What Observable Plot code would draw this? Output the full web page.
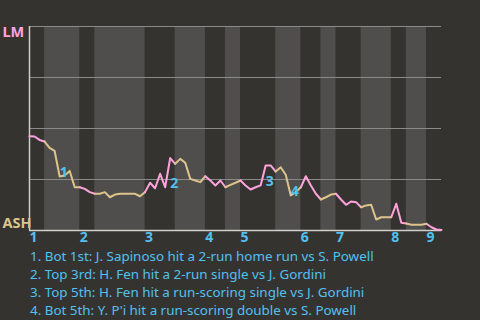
<!DOCTYPE html>
<html>
<head>
<meta charset="utf-8">
<script src="https://cdn.jsdelivr.net/npm/d3@7"></script>
<script src="https://cdn.jsdelivr.net/npm/@observablehq/plot@0.6"></script>
<style>
  html, body { margin: 0; padding: 0; background: #353330; width: 480px; height: 320px; overflow: hidden; }
  #chart svg { display: block; }
  #notes { padding-left: 30px; color: #52c1f0; font-family: "Noto Sans", sans-serif; font-size: 13.4px; line-height: 18px; }
</style>
</head>
<body>
<div id="chart"></div>
<div id="notes"></div>
<script>
// Teams (away on top, home on bottom)
const teams = ["LM", "ASH"];
const teamValue = [1, 0];
// Innings labels
const innings = ["1", "2", "3", "4", "5", "6", "7", "8", "9"];
// Number of plays in each half-inning (T1, B1, T2, B2, ... T9)
const halfPlays = [3, 7, 3, 10, 6, 6, 4, 3, 7, 5, 4, 3, 5, 6, 3, 4, 3];
// LM win probability after each play (index 0 = game start)
const lmWinProb = [
  0.462, 0.461, 0.444, 0.436,
  0.405, 0.390, 0.265, 0.270, 0.292, 0.212, 0.212,
  0.204, 0.188, 0.180,
  0.180, 0.188, 0.163, 0.176, 0.180, 0.180, 0.180, 0.180, 0.168, 0.188,
  0.234, 0.207, 0.278, 0.212, 0.355, 0.327,
  0.351, 0.332, 0.253, 0.245, 0.237, 0.266,
  0.245, 0.221, 0.245, 0.212,
  0.224, 0.234, 0.245,
  0.221, 0.201, 0.212, 0.221, 0.319, 0.319, 0.289,
  0.310, 0.273, 0.172, 0.188, 0.212,
  0.266, 0.221, 0.180, 0.152,
  0.163, 0.176, 0.180,
  0.152, 0.126, 0.142, 0.139, 0.114,
  0.123, 0.126, 0.054, 0.065, 0.065, 0.065,
  0.131, 0.038, 0.034,
  0.028, 0.028, 0.028, 0.033,
  0.016, 0.005, 0.003
];
// Key events: play index and description
const eventPlays = [6, 28, 47, 52];
const eventLabels = ["1", "2", "3", "4"];
const eventNotes = [
  "Bot 1st: J. Sapinoso hit a 2-run home run vs S. Powell",
  "Top 3rd: H. Fen hit a 2-run single vs J. Gordini",
  "Top 5th: H. Fen hit a run-scoring single vs J. Gordini",
  "Bot 5th: Y. P'i hit a run-scoring double vs S. Powell"
];

// styles
const awayColor = "#ffa3dc";
const homeColor = "#dcc48c";
const bandColor = "#4f4e4c";
const gridColor = "#8a8a88";
const axisColor = "#cfcfca";
const labelColor = "#52c1f0";

// build structures
const bounds = [0];
halfPlays.forEach(n => bounds.push(bounds[bounds.length - 1] + n));
const halves = halfPlays.map((n, h) => ({h, x1: bounds[h], x2: bounds[h + 1], top: h % 2 === 0}));
const linePts = [];
halves.forEach(({h, x1, x2}) => {
  for (let i = x1; i <= x2; i++) linePts.push({h, i, v: lmWinProb[i], c: h % 2 === 0 ? awayColor : homeColor});
});
const inningStarts = innings.map((lab, k) => ({lab, x: bounds[2 * k]}));
const events = eventPlays.map((p, k) => ({lab: eventLabels[k], x: p, v: Math.min(lmWinProb[p - 1], lmWinProb[p])}));

const chart = Plot.plot({
  width: 480,
  height: 247,
  marginLeft: 29,
  marginRight: 39,
  marginTop: 26,
  marginBottom: 17,
  style: {background: "transparent", fontFamily: "'Noto Sans', sans-serif"},
  x: {domain: [0, bounds[bounds.length - 1]], axis: null},
  y: {domain: [0, 1], axis: null},
  marks: [
    Plot.rect(halves.filter(d => !d.top), {x1: "x1", x2: "x2", fill: bandColor}),
    Plot.ruleY([0.25, 0.5, 0.75, 1], {stroke: gridColor, strokeWidth: 1}),
    Plot.ruleX([0], {stroke: axisColor, strokeWidth: 1.5}),
    Plot.ruleY([0], {stroke: axisColor, strokeWidth: 1.5}),
    Plot.line(linePts, {x: "i", y: "v", z: "h", stroke: "c", strokeWidth: 2, curve: "linear"}),
    Plot.text(events, {x: "x", y: "v", text: "lab", fill: labelColor, fontWeight: "bold", fontSize: 14, textAnchor: "start", lineAnchor: "bottom", dy: 1}),
    Plot.text(inningStarts, {x: "x", frameAnchor: "bottom", text: "lab", fill: labelColor, fontWeight: "bold", fontSize: 14, textAnchor: "start", lineAnchor: "middle", dy: 7}),
    Plot.text([teams[0]], {y: [teamValue[0]], frameAnchor: "left", text: d => d, fill: awayColor, fontWeight: "bold", fontSize: 14.5, textAnchor: "start", lineAnchor: "top", dx: -27, dy: 0}),
    Plot.text([teams[1]], {y: [teamValue[1]], frameAnchor: "left", text: d => d, fill: homeColor, fontWeight: "bold", fontSize: 14.5, textAnchor: "start", lineAnchor: "bottom", dx: -27, dy: -3})
  ]
});
document.getElementById("chart").appendChild(chart);
const notes = document.getElementById("notes");
eventNotes.forEach((t, k) => {
  const div = document.createElement("div");
  div.textContent = `${eventLabels[k]}. ${t}`;
  notes.appendChild(div);
});
</script>
</body>
</html>
